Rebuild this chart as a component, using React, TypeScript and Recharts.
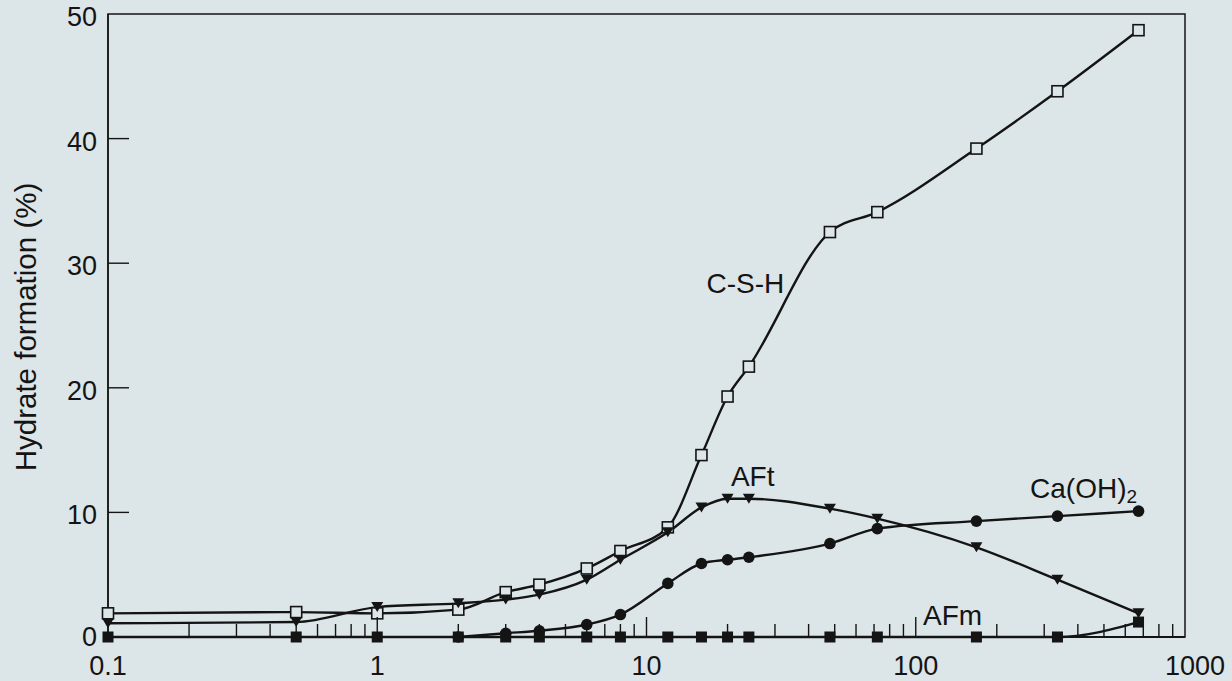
import React from 'react';
import { LineChart, Line, XAxis, YAxis, ReferenceArea, ReferenceDot } from 'recharts';

// hydration time (h) and hydrate contents (%)
const hours = [0.1, 0.5, 1, 2, 3, 4, 6, 8, 12, 16, 20, 24, 48, 72, 168, 336, 672];
const cshValues = [1.9, 2.0, 1.9, 2.2, 3.6, 4.2, 5.5, 6.9, 8.8, 14.6, 19.3, 21.7, 32.5, 34.1, 39.2, 43.8, 48.7];
const aftValues = [1.1, 1.2, 2.4, 2.7, 3.0, 3.4, 4.6, 6.2, 8.4, 10.4, 11.1, 11.1, 10.3, 9.5, 7.2, 4.6, 1.9];
const caohValues = [null, null, null, 0, 0.3, 0.5, 1.0, 1.8, 4.3, 5.9, 6.2, 6.4, 7.5, 8.7, 9.3, 9.7, 10.1];
const afmValues = [0, 0, 0, 0, 0, 0, 0, 0, 0, 0, 0, 0, 0, 0, 0, 0, 1.2];

const xTicks = [
  0.1, 0.2, 0.3, 0.4, 0.5, 0.6, 0.7, 0.8, 0.9,
  1, 2, 3, 4, 5, 6, 7, 8, 9,
  10, 20, 30, 40, 50, 60, 70, 80, 90,
  100, 200, 300, 400, 500, 600, 700, 800, 900,
  1000,
];
const xLabels = [0.1, 1, 10, 100, 1000];
const yTicks = [0, 10, 20, 30, 40, 50];

// curve names placed next to the curves (data coords)
const annotations = [
  { x: 23.3, y: 28.4, text: 'C-S-H' },
  { x: 24.8, y: 12.9, text: 'AFt' },
  { x: 137, y: 1.7, text: 'AFm' },
  { x: 420, y: 11.9, text: 'Ca(OH)', sub: '2' },
];

const data = hours.map((h, i) => ({
  h,
  csh: cshValues[i],
  aft: aftValues[i],
  caoh: caohValues[i],
  afm: afmValues[i],
}));

const ink = '#141414';
const bg = '#dce5e8';
const font = '"Liberation Sans", Arial, Helvetica, sans-serif';

const XTick = (props: any) => {
  const { x, y, payload } = props;
  const v = payload.value;
  const major = xLabels.includes(v);
  const edge = v === 0.1 || v === 1000;
  return (
    <g>
      {!edge && (
        <line x1={x} x2={x} y1={y} y2={y - (major ? 20 : 13)} stroke={ink} strokeWidth={1.4} />
      )}
      {major && (
        <text
          x={x + (v === 1000 ? 10 : 0)}
          y={y + 29}
          textAnchor="middle"
          dominantBaseline="central"
          fontSize={27}
          fill={ink}
          fontFamily={font}
        >
          {v}
        </text>
      )}
    </g>
  );
};

const YTick = (props: any) => {
  const { x, y, payload } = props;
  const v = payload.value;
  const inner = v > 0 && v < 50;
  return (
    <g>
      {inner && <line x1={x} x2={x + 21} y1={y} y2={y} stroke={ink} strokeWidth={1.4} />}
      <text x={x - 11} y={y + (v === 0 ? 0 : 3)} textAnchor="end" dominantBaseline="central" fontSize={27} fill={ink} fontFamily={font}>
        {v}
      </text>
    </g>
  );
};

const openSquare = (p: any) => {
  if (p.cy == null) return <g key={`cs${p.index}`} />;
  return (
    <rect key={`cs${p.index}`} x={p.cx - 5.5} y={p.cy - 5.5} width={11} height={11} fill={bg} stroke={ink} strokeWidth={1.6} />
  );
};

const downTriangle = (p: any) => {
  if (p.cy == null) return <g key={`ft${p.index}`} />;
  const { cx, cy } = p;
  return <path key={`ft${p.index}`} d={`M${cx - 6},${cy - 5} L${cx + 6},${cy - 5} L${cx},${cy + 5} Z`} fill={ink} />;
};

const filledCircle = (p: any) => {
  if (p.cy == null) return <g key={`ch${p.index}`} />;
  return <circle key={`ch${p.index}`} cx={p.cx} cy={p.cy} r={5.8} fill={ink} />;
};

const filledSquare = (p: any) => {
  if (p.cy == null) return <g key={`fm${p.index}`} />;
  return <rect key={`fm${p.index}`} x={p.cx - 5.5} y={p.cy - 5.5} width={11} height={11} fill={ink} />;
};

const annotationLabel = (a: { text: string; sub?: string }) => (props: any) => {
  const vb = props.viewBox || {};
  const cx = vb.x + (vb.width || 0) / 2;
  const cy = vb.y + (vb.height || 0) / 2;
  return (
    <text x={cx} y={cy} textAnchor="middle" dominantBaseline="central" fontSize={28} fill={ink} fontFamily={font}>
      {a.text}
      {a.sub && (
        <tspan fontSize={19} dy={7}>
          {a.sub}
        </tspan>
      )}
    </text>
  );
};

export default function App() {
  return (
    <div style={{ position: 'absolute', left: 0, top: 0, width: 1232, height: 681, background: bg, overflow: 'hidden' }}>
      <div
        style={{
          position: 'absolute',
          left: 26,
          top: 327,
          transform: 'translate(-50%, -50%) rotate(-90deg)',
          whiteSpace: 'nowrap',
          fontFamily: font,
          fontSize: 29.5,
          color: ink,
          lineHeight: 1,
        }}
      >
        Hydrate formation (%)
      </div>
      <LineChart width={1232} height={681} data={data} margin={{ top: 14, right: 47, bottom: 0, left: 0 }}>
        <XAxis
          dataKey="h"
          type="number"
          scale="log"
          domain={[0.1, 1000]}
          ticks={xTicks}
          interval={0}
          height={44}
          tickSize={0}
          tickMargin={0}
          tickLine={false}
          tick={<XTick />}
          axisLine={{ stroke: ink, strokeWidth: 2 }}
        />
        <YAxis
          type="number"
          domain={[0, 50]}
          ticks={yTicks}
          interval={0}
          width={108}
          tickSize={0}
          tickMargin={0}
          tickLine={false}
          tick={<YTick />}
          axisLine={{ stroke: ink, strokeWidth: 1.5 }}
        />
        <ReferenceArea x1={0.1} x2={1000} y1={0} y2={50} fill="none" stroke={ink} strokeWidth={1.5} />
        <Line type="monotone" dataKey="csh" stroke={ink} strokeWidth={2.4} dot={openSquare} isAnimationActive={false} />
        <Line type="monotone" dataKey="aft" stroke={ink} strokeWidth={2.4} dot={downTriangle} isAnimationActive={false} />
        <Line type="monotone" dataKey="caoh" stroke={ink} strokeWidth={2.4} dot={filledCircle} isAnimationActive={false} connectNulls />
        <Line type="monotone" dataKey="afm" stroke={ink} strokeWidth={2.4} dot={filledSquare} isAnimationActive={false} />
        {annotations.map((a) => (
          <ReferenceDot
            key={a.text}
            x={a.x}
            y={a.y}
            r={1}
            fill="none"
            stroke="none"
            label={{ content: annotationLabel(a) }}
          />
        ))}
      </LineChart>
    </div>
  );
}
